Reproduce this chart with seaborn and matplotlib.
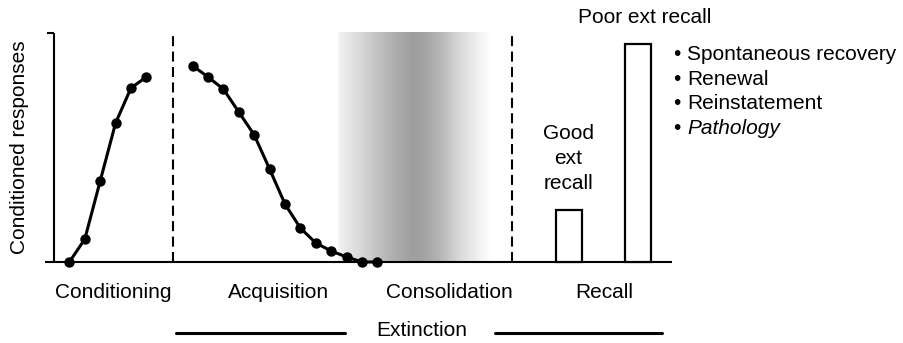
import numpy as np
import pandas as pd
import matplotlib
matplotlib.use("Agg")
import matplotlib.pyplot as plt
import seaborn as sns

# trials (x in trial units) and conditioned responses (0..1)
cond_trials = [1, 2, 3, 4, 5, 6]
cond_resp = [0.0, 0.10, 0.354, 0.607, 0.76, 0.808]

ext_trials = [9, 10, 11, 12, 13, 14, 15, 16, 17, 18, 19, 20, 21]
ext_resp = [0.857, 0.808, 0.755, 0.655, 0.555, 0.406, 0.253, 0.148,
            0.083, 0.048, 0.022, 0.0, 0.0]

recall_labels = ["Good ext recall", "Poor ext recall"]
recall_pos = [33.44, 37.92]
recall_resp = [0.227, 0.952]

phase_labels = ["Conditioning", "Acquisition", "Consolidation", "Recall"]
phase_pos = [3.83, 14.61, 25.65, 35.71]

bullets = ["Spontaneous recovery", "Renewal", "Reinstatement", "Pathology"]

sns.set_theme(style="white")
plt.rcParams["font.family"] = ["Liberation Sans", "DejaVu Sans"]
plt.rcParams["text.color"] = "black"
FS = 15

fig = plt.figure(figsize=(9.04, 3.43), dpi=100)
ax = fig.add_axes([0, 0, 1, 1])
ax.set_xlim(-3.5065, 55.195)
ax.set_ylim(-0.3537, 1.1441)
ax.axis("off")

# consolidation shading (gray gradient)
px = np.linspace(338, 492, 300)
shade = np.interp(px, [338, 341, 360, 380, 400, 412, 422, 440, 460, 480, 492],
                  [0.97, 0.93, 0.85, 0.75, 0.66, 0.62, 0.63, 0.71, 0.85, 0.95, 1.0])
ax.imshow(shade[None, :], cmap="gray", vmin=0, vmax=1, aspect="auto",
          extent=[18.44, 28.44, 0, 1], interpolation="bilinear", zorder=0)

# axes lines
ax.plot([0, 0], [0, 1], color="black", lw=1.5, solid_capstyle="butt")
ax.plot([-0.45, 0], [1, 1], color="black", lw=1.5, solid_capstyle="butt")
ax.plot([-0.58, 40.13], [0, 0], color="black", lw=1.5, solid_capstyle="butt")

# phase separators
for xv in [7.75, 29.75]:
    ax.plot([xv, xv], [0, 1], color="black", lw=1.5, ls=(0, (4.8, 2.6)))

# learning curves
sns.lineplot(x=cond_trials, y=cond_resp, ax=ax, color="black", lw=2.2,
             marker="o", markersize=7.5, markeredgewidth=0, zorder=3)
sns.lineplot(x=ext_trials, y=ext_resp, ax=ax, color="black", lw=2.2,
             marker="o", markersize=7.5, markeredgewidth=0, zorder=3)

# recall bars
ax.bar(recall_pos, recall_resp, width=1.69, facecolor="white",
       edgecolor="black", linewidth=1.6, zorder=2)

# texts
ax.text(-2.27, 0.502, "Conditioned responses", rotation=90, ha="center",
        va="center", fontsize=FS)
for lab, xp in zip(phase_labels, phase_pos):
    ax.text(xp, -0.135, lab, ha="center", va="center", fontsize=FS)
ax.text(23.9, -0.297, "Extinction", ha="center", va="center", fontsize=FS)
ax.plot([7.92, 18.9], [-0.31, -0.31], color="black", lw=2.2)
ax.plot([28.64, 39.48], [-0.31, -0.31], color="black", lw=2.2)

ax.text(38.38, 1.066, "Poor ext recall", ha="center", va="center", fontsize=FS)
ax.text(33.38, 0.45, "Good\next\nrecall", ha="center", va="center",
        fontsize=FS, linespacing=1.4)

bullet_y = [0.904, 0.799, 0.69, 0.585]
for i, (b, yv) in enumerate(zip(bullets, bullet_y)):
    ax.text(40.19, yv, "\u2022", ha="left", va="center", fontsize=FS)
    ax.text(41.1, yv, b, ha="left", va="center", fontsize=FS,
            style="italic" if i == 3 else "normal")

fig.savefig("out.png", dpi=100)
